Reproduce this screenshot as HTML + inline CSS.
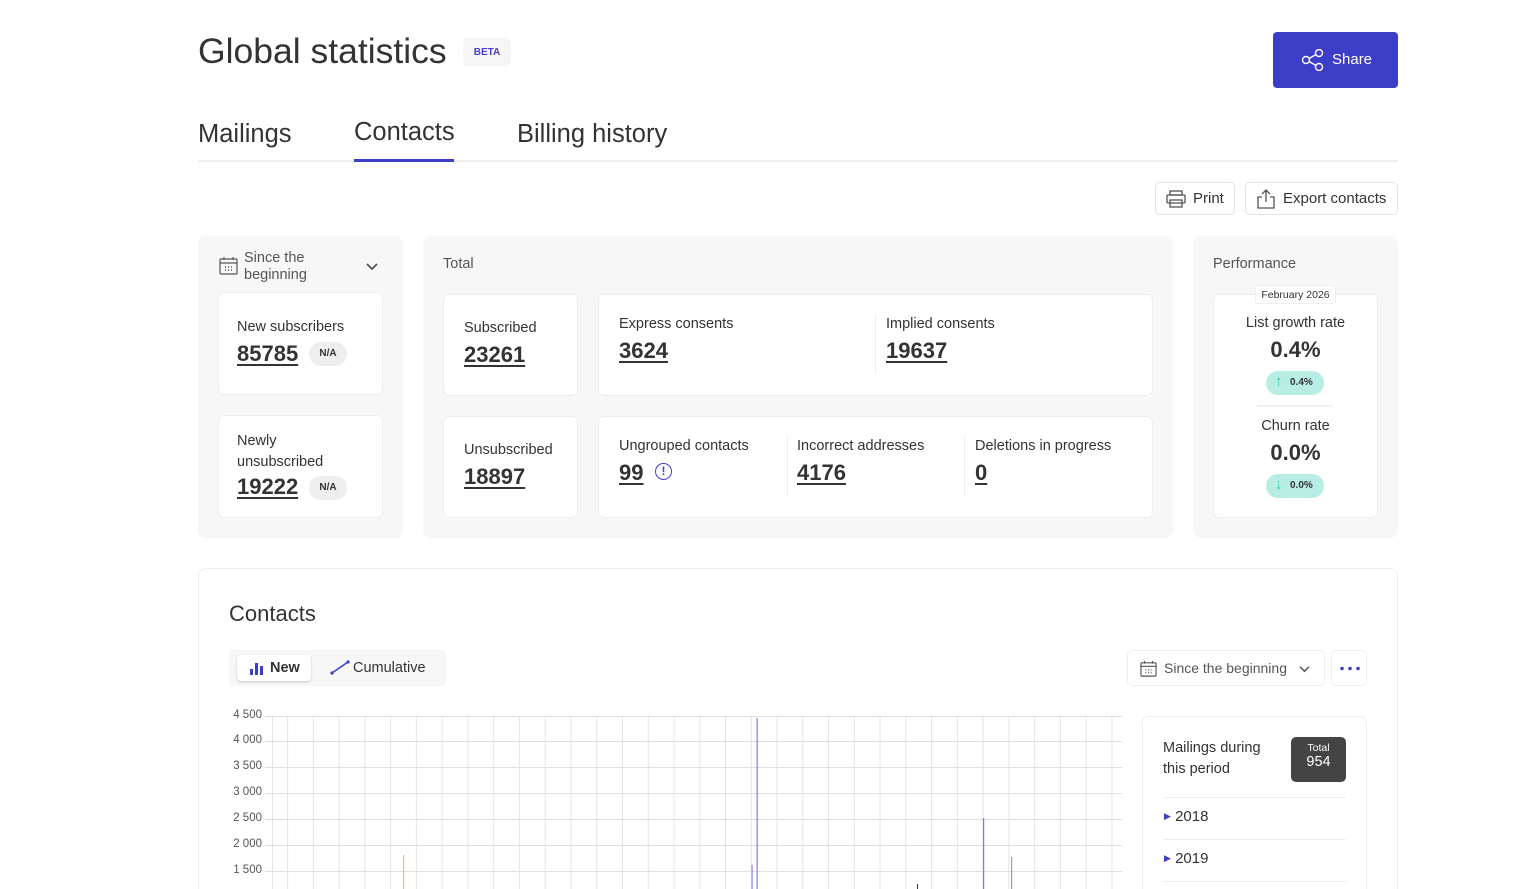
<!DOCTYPE html>
<html><head><meta charset="utf-8"><style>
*{box-sizing:border-box;margin:0;padding:0}
html{width:1521px;height:889px;overflow:hidden}
body{width:1521px;height:889px;overflow:hidden;background:#fff;font-family:"Liberation Sans",sans-serif;color:#333;position:relative}
.a{position:absolute}
.panel{position:absolute;background:#f7f7f7;border-radius:8px}
.card{position:absolute;background:#fff;border:1px solid #eee;border-radius:6px}
.lbl{position:absolute;font-size:14.5px;color:#333}
.num{position:absolute;font-size:22px;font-weight:bold;color:#333;text-decoration:underline;text-underline-offset:3px;text-decoration-thickness:2px}
.na{position:absolute;background:#eee;border-radius:12px;font-size:10px;font-weight:bold;width:38px;height:24px;line-height:24px;text-align:center}
.sep{position:absolute;width:1px;background:#eee}
.ytick{position:absolute;left:222px;width:40px;text-align:right;font-size:11.5px;color:#555}
</style></head><body>
<div class="a" style="left:198px;top:31px;font-size:35.5px;color:#333">Global statistics</div>
<div class="a" style="left:463px;top:38px;width:48px;height:28px;background:#f6f6f6;border-radius:5px;font-size:10px;font-weight:bold;color:#4a3fd0;text-align:center;line-height:29px">BETA</div>
<div class="a" style="left:1273px;top:32px;width:125px;height:56px;background:#3d3ec7;border-radius:4px;color:#fff;font-size:15px;line-height:56px">
<svg class="a" style="left:28px;top:17px" width="24" height="22" viewBox="0 0 24 22" fill="none" stroke="#fff" stroke-width="1.4"><circle cx="5" cy="11" r="3.5"/><circle cx="18" cy="4" r="3.5"/><circle cx="18" cy="18" r="3.5"/><path d="M8 9.5L15 5.5M8 12.5L15 16.5"/></svg>
<span class="a" style="left:59px;top:0">Share</span></div>
<div class="a" style="left:198px;top:120px;font-size:25.5px">Mailings</div>
<div class="a" style="left:354px;top:118px;font-size:25.5px">Contacts</div>
<div class="a" style="left:517px;top:120px;font-size:25.5px">Billing history</div>
<div class="a" style="left:198px;top:160px;width:1200px;height:2px;background:#eee"></div>
<div class="a" style="left:354px;top:159px;width:100px;height:3px;background:#3d3ec7"></div>
<div class="a" style="left:1155px;top:182px;width:80px;height:33px;border:1px solid #e3e3e3;border-radius:5px;font-size:15px;line-height:31px;padding-left:37px">Print
<svg class="a" style="left:10px;top:7px" width="20" height="18" viewBox="0 0 20 18" fill="none" stroke="#555" stroke-width="1.3"><rect x="4" y="1" width="12" height="4"/><rect x="1" y="5" width="18" height="8" rx="1"/><rect x="4" y="10" width="12" height="7"/></svg></div>
<div class="a" style="left:1245px;top:182px;width:153px;height:33px;border:1px solid #e3e3e3;border-radius:5px;font-size:15px;line-height:31px;padding-left:37px">Export contacts
<svg class="a" style="left:11px;top:6px" width="18" height="20" viewBox="0 0 18 20" fill="none" stroke="#555" stroke-width="1.3"><path d="M9 1V13M5 5L9 1L13 5M5 8H1V19H17V8H13"/></svg></div>

<div class="panel" style="left:198px;top:236px;width:205px;height:302px"></div>
<svg class="a" style="left:219px;top:257px" width="19" height="18" viewBox="0 0 19 18" fill="none" stroke="#555" stroke-width="1.2"><rect x="1" y="2" width="17" height="15" rx="1"/><path d="M1 6H18M5 0V3M14 0V3"/><path d="M6 10h1M9 10h1M12 10h1M6 13h1M9 13h1M12 13h1" stroke-width="1.5"/></svg>
<div class="a" style="left:244px;top:250px;font-size:14.5px;line-height:17px;color:#555">Since the<br>beginning</div>
<svg class="a" style="left:366px;top:263px" width="12" height="8" viewBox="0 0 12 8" fill="none" stroke="#555" stroke-width="1.8"><path d="M1 1L6 6L11 1"/></svg>
<div class="card" style="left:218px;top:292px;width:165px;height:103px"></div>
<div class="lbl" style="left:237px;top:319px">New subscribers</div>
<div class="num" style="left:237px;top:341px">85785</div>
<div class="na" style="left:309px;top:342px">N/A</div>
<div class="card" style="left:218px;top:415px;width:165px;height:103px"></div>
<div class="lbl" style="left:237px;top:431px;line-height:21px">Newly<br>unsubscribed</div>
<div class="num" style="left:237px;top:474px">19222</div>
<div class="na" style="left:309px;top:476px">N/A</div>

<div class="panel" style="left:423px;top:236px;width:750px;height:302px"></div>
<div class="a" style="left:443px;top:256px;font-size:14.5px;color:#555">Total</div>
<div class="card" style="left:443px;top:294px;width:135px;height:102px"></div>
<div class="lbl" style="left:464px;top:320px">Subscribed</div>
<div class="num" style="left:464px;top:342px">23261</div>
<div class="card" style="left:443px;top:416px;width:135px;height:102px"></div>
<div class="lbl" style="left:464px;top:442px">Unsubscribed</div>
<div class="num" style="left:464px;top:464px">18897</div>
<div class="card" style="left:598px;top:294px;width:555px;height:102px"></div>
<div class="lbl" style="left:619px;top:316px">Express consents</div>
<div class="num" style="left:619px;top:338px">3624</div>
<div class="sep" style="left:875px;top:314px;height:60px"></div>
<div class="lbl" style="left:886px;top:316px">Implied consents</div>
<div class="num" style="left:886px;top:338px">19637</div>
<div class="card" style="left:598px;top:416px;width:555px;height:102px"></div>
<div class="lbl" style="left:619px;top:438px">Ungrouped contacts</div>
<div class="num" style="left:619px;top:460px">99</div>
<div class="a" style="left:655px;top:463px;width:17px;height:17px;border:1.5px solid #4a3fd0;border-radius:50%;color:#4a3fd0;font-size:12px;font-weight:bold;text-align:center;line-height:15px">!</div>
<div class="sep" style="left:787px;top:436px;height:60px"></div>
<div class="lbl" style="left:797px;top:438px">Incorrect addresses</div>
<div class="num" style="left:797px;top:460px">4176</div>
<div class="sep" style="left:964px;top:436px;height:60px"></div>
<div class="lbl" style="left:975px;top:438px">Deletions in progress</div>
<div class="num" style="left:975px;top:460px">0</div>

<div class="panel" style="left:1193px;top:236px;width:205px;height:302px"></div>
<div class="a" style="left:1213px;top:256px;font-size:14.5px;color:#555">Performance</div>
<div class="card" style="left:1213px;top:294px;width:165px;height:224px"></div>
<div class="a" style="left:1255px;top:285px;width:81px;height:19px;background:#fff;border:1px solid #eee;border-radius:3px;font-size:10.5px;text-align:center;line-height:18px">February 2026</div>
<div class="a" style="left:1213px;top:315px;width:165px;text-align:center;font-size:14.5px">List growth rate</div>
<div class="a" style="left:1213px;top:337px;width:165px;text-align:center;font-size:22px;font-weight:bold">0.4%</div>
<div class="a" style="left:1266px;top:371px;width:58px;height:24px;background:#b8ede3;border-radius:12px;font-size:10px;font-weight:bold;line-height:24px;padding-left:24px">0.4%<span class="a" style="left:9px;top:-1px;color:#2cc7a8;font-size:15px;font-weight:bold">↑</span></div>
<div class="a" style="left:1257px;top:405px;width:76px;height:2px;background:#f2f2f2"></div>
<div class="a" style="left:1213px;top:418px;width:165px;text-align:center;font-size:14.5px">Churn rate</div>
<div class="a" style="left:1213px;top:440px;width:165px;text-align:center;font-size:22px;font-weight:bold">0.0%</div>
<div class="a" style="left:1266px;top:474px;width:58px;height:24px;background:#b8ede3;border-radius:12px;font-size:10px;font-weight:bold;line-height:24px;padding-left:24px">0.0%<span class="a" style="left:9px;top:-1px;color:#2cc7a8;font-size:15px;font-weight:bold">↓</span></div>

<div class="a" style="left:198px;top:568px;width:1200px;height:330px;border:1px solid #eee;border-bottom:none;border-radius:8px 8px 0 0"></div>
<div class="a" style="left:229px;top:601px;font-size:22px">Contacts</div>
<div class="a" style="left:229px;top:650px;width:217px;height:36px;background:#f7f7f7;border-radius:5px"></div>
<div class="a" style="left:237px;top:655px;width:74px;height:26px;background:#fff;border-radius:4px;box-shadow:0 1px 2px rgba(0,0,0,.2);font-size:14.5px;font-weight:bold;line-height:26px;padding-left:33px">New
<svg class="a" style="left:13px;top:7px" width="14" height="13"><rect x="0" y="7" width="3" height="6" fill="#3d3ec7"/><rect x="5" y="1" width="3" height="12" fill="#3d3ec7"/><rect x="10" y="4" width="3" height="9" fill="#3d3ec7"/></svg></div>
<svg class="a" style="left:330px;top:660px" width="20" height="15"><path d="M2 13L18 2" stroke="#3d3ec7" stroke-width="1.6"/><circle cx="2" cy="13" r="1.6" fill="#3d3ec7"/><circle cx="18" cy="2" r="1.6" fill="#3d3ec7"/></svg>
<div class="a" style="left:353px;top:660px;font-size:14.5px">Cumulative</div>
<div class="a" style="left:1127px;top:650px;width:198px;height:36px;border:1px solid #eee;border-radius:5px;font-size:14px;color:#555;line-height:34px;padding-left:36px">Since the beginning
<svg class="a" style="left:12px;top:10px" width="17" height="16" viewBox="0 0 19 18" fill="none" stroke="#555" stroke-width="1.3"><rect x="1" y="2" width="17" height="15" rx="1"/><path d="M1 6H18M5 0V3M14 0V3"/><path d="M6 10h1M9 10h1M12 10h1M6 13h1M9 13h1M12 13h1" stroke-width="1.5"/></svg>
<svg class="a" style="left:171px;top:15px" width="11" height="7" viewBox="0 0 12 8" fill="none" stroke="#555" stroke-width="1.8"><path d="M1 1L6 6L11 1"/></svg></div>
<div class="a" style="left:1331px;top:650px;width:36px;height:36px;border:1px solid #eee;border-radius:5px">
<svg class="a" style="left:7px;top:15px" width="22" height="5"><circle cx="3" cy="2.5" r="1.8" fill="#3d3ec7"/><circle cx="11" cy="2.5" r="1.8" fill="#3d3ec7"/><circle cx="19" cy="2.5" r="1.8" fill="#3d3ec7"/></svg></div>

<svg class="a" style="left:0;top:0" width="1521" height="889">
<defs><pattern id="vg" patternUnits="userSpaceOnUse" x="287.1" y="0" width="25.76" height="10"><line x1="0.5" y1="0" x2="0.5" y2="10" stroke="#e4e4e4" stroke-width="1"/></pattern></defs>
<rect x="287" y="716" width="835" height="173" fill="url(#vg)"/>
<line x1="272.5" y1="716" x2="272.5" y2="889" stroke="#e4e4e4"/>
<g stroke="#e0e0e0" stroke-width="1">
<line x1="265" x2="1122" y1="716.5" y2="716.5"/><line x1="265" x2="1122" y1="741.5" y2="741.5"/><line x1="265" x2="1122" y1="767.5" y2="767.5"/><line x1="265" x2="1122" y1="793.5" y2="793.5"/><line x1="265" x2="1122" y1="819.5" y2="819.5"/><line x1="265" x2="1122" y1="845.5" y2="845.5"/><line x1="265" x2="1122" y1="871.5" y2="871.5"/></g>
<rect x="403" y="855" width="1.2" height="34" fill="#f9b779"/>
<rect x="756.5" y="718" width="1.3" height="171" fill="#8b86f0"/>
<rect x="751.5" y="865" width="1.2" height="24" fill="#8b86f0"/>
<rect x="983" y="818" width="1.2" height="71" fill="#7c78e8"/>
<rect x="1011" y="857" width="1.2" height="32" fill="#c48aa8"/>
<rect x="917" y="884" width="1" height="5" fill="#333"/>
</svg>
<div class="ytick" style="top:709px">4 500</div>
<div class="ytick" style="top:734px">4 000</div>
<div class="ytick" style="top:760px">3 500</div>
<div class="ytick" style="top:786px">3 000</div>
<div class="ytick" style="top:812px">2 500</div>
<div class="ytick" style="top:838px">2 000</div>
<div class="ytick" style="top:864px">1 500</div>

<div class="a" style="left:1142px;top:716px;width:225px;height:180px;border:1px solid #eee;border-bottom:none;border-radius:6px 6px 0 0"></div>
<div class="a" style="left:1163px;top:738px;font-size:14.5px;line-height:21px">Mailings during<br>this period</div>
<div class="a" style="left:1291px;top:737px;width:55px;height:45px;background:#444;border-radius:5px;color:#fff;text-align:center"><div style="font-size:10.5px;margin-top:5px">Total</div><div style="font-size:14.5px">954</div></div>
<div class="a" style="left:1163px;top:797px;width:183px;height:1px;background:#eee"></div>
<div class="a" style="left:1163px;top:839px;width:183px;height:1px;background:#eee"></div>
<div class="a" style="left:1163px;top:881px;width:183px;height:1px;background:#eee"></div>
<div class="a" style="left:1164px;top:808px;font-size:15px"><span style="color:#3d3ec7;font-size:9px;vertical-align:2px">▶</span> 2018</div>
<div class="a" style="left:1164px;top:850px;font-size:15px"><span style="color:#3d3ec7;font-size:9px;vertical-align:2px">▶</span> 2019</div>
</body></html>
